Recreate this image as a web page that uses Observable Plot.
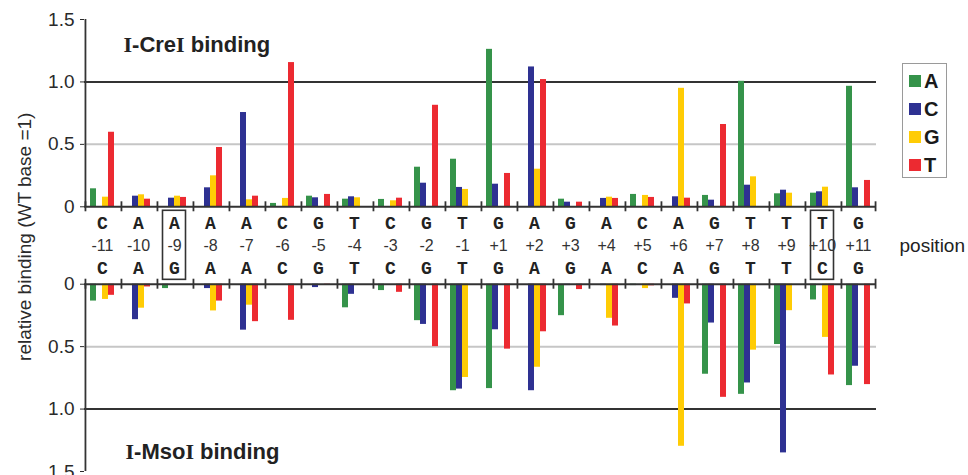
<!DOCTYPE html>
<html><head><meta charset="utf-8">
<script src="https://cdn.jsdelivr.net/npm/d3@7"></script>
<script src="https://cdn.jsdelivr.net/npm/@observablehq/plot@0.6"></script>
<style>
body{margin:0;background:#fff;font-family:"Liberation Sans",Arial,sans-serif;}
#wrap{position:relative;width:968px;height:475px;overflow:hidden;}
#legend{position:absolute;left:902px;top:63px;width:45px;height:115px;border:1px solid #9a9a9a;box-sizing:border-box;padding-top:3px;}
.item{height:28px;display:flex;align-items:center;}
.sw{width:12px;height:12px;margin-left:6px;margin-right:3px;}
.lb{font-weight:bold;font-size:20px;color:#1a1a1a;line-height:20px;}
</style></head><body><div id="wrap"></div>
<script>
// ---- data ----
const positions = ["-11","-10","-9","-8","-7","-6","-5","-4","-3","-2","-1","+1","+2","+3","+4","+5","+6","+7","+8","+9","+10","+11"];
const topSeq    = ["C","A","A","A","A","C","G","T","C","G","T","G","A","G","A","C","A","G","T","T","T","G"];
const bottomSeq = ["C","A","G","A","A","C","G","T","C","G","T","G","A","G","A","C","A","G","T","T","C","G"];
const bases = ["A","C","G","T"];
const baseColors = ["#35934a","#2e3192","#ffcc05","#ec2a31"];
const yTicks = [0, 0.5, 1.0, 1.5];

// I-CreI binding (null = wild-type base, not drawn)
const creA = [0.144,null,null,null,null,0.027,0.085,0.061,0.059,0.317,0.381,1.261,null,0.061,null,0.099,null,0.091,1.005,0.104,0.109,0.965];
const creC = [null,0.085,0.069,0.152,0.755,null,0.072,0.080,null,0.189,0.155,0.181,1.120,0.037,0.067,null,0.080,0.053,0.173,0.133,0.120,0.152];
const creG = [0.077,0.096,0.085,0.248,0.056,0.067,null,0.072,0.048,null,0.139,null,0.301,null,0.077,0.091,0.949,null,0.240,0.109,0.157,null];
const creT = [0.597,0.061,0.075,0.475,0.085,1.155,0.099,null,0.069,0.813,null,0.267,1.019,0.037,0.067,0.075,0.069,0.659,null,null,null,0.211];

// I-MsoI binding
const msoA = [0.135,null,0.035,null,null,0,0,0.189,0.051,0.292,0.853,0.836,null,0.252,null,0.011,null,0.721,0.882,0.483,0.126,0.812];
const msoC = [null,0.284,0,0.035,0.368,null,0.027,0.081,null,0.322,0.840,0.365,0.853,0.011,0.011,null,0.113,0.311,0.791,1.351,null,0.657];
const msoG = [0.122,0.192,null,0.214,0.168,0,null,0,0,null,0.747,null,0.665,null,0.273,0.035,1.298,null,0.528,0.212,0.426,null];
const msoT = [0.089,0.022,0,0.135,0.300,0.289,0.003,null,0.065,0.500,null,0.520,0.381,0.043,0.335,0.013,0.158,0.906,null,null,0.727,0.804];

// ---- layout ----
const G = 0.62; // gap between the two panels, in value units
const W = 968, H = 490, mL = 83, mR = 92, mT = 19, mB = 19;
const pad = 0.71;
const fw = (W - mL - mR) / positions.length;
const step = fw / (bases.length + 2 * pad);
const edge = step * (pad + 0.5);

const creVals = {A: creA, C: creC, G: creG, T: creT};
const msoVals = {A: msoA, C: msoC, G: msoG, T: msoT};
const rows = positions.flatMap((pos, i) => bases.map(b => ({pos, base: b, cre: creVals[b][i], mso: msoVals[b][i]})));
const topRows = rows.filter(d => d.cre != null);
const botRows = rows.filter(d => d.mso != null);
const seqRows = positions.map((pos, i) => ({pos, top: topSeq[i], bot: bottomSeq[i]}));
const boxed = seqRows.filter(d => d.top !== d.bot);
const first = [positions[0]], last = [positions[positions.length - 1]];

const fmt = v => { const t = v >= -1e-9 ? v : -(v + G); return Math.abs(t) < 1e-9 ? "0" : t.toFixed(1); };
const dark = "#333";

const chart = Plot.plot({
  width: W, height: H, marginLeft: mL, marginRight: mR, marginTop: mT, marginBottom: mB,
  style: {fontFamily: '"Liberation Sans", Arial, sans-serif', background: "transparent", overflow: "visible"},
  fx: {domain: positions, padding: 0, axis: null},
  x: {domain: bases, paddingInner: 0, paddingOuter: pad, axis: null},
  y: {domain: [-(G + 1.5), 1.5]},
  color: {domain: bases, range: baseColors},
  marks: [
    Plot.ruleY([0.5, -(G + 0.5)], {stroke: "#c6c6c6", strokeWidth: 2}),
    Plot.ruleY([1, -(G + 1)], {stroke: dark, strokeWidth: 2}),
    Plot.barY(topRows, {fx: "pos", x: "base", y: "cre", fill: "base"}),
    Plot.barY(botRows, {fx: "pos", x: "base", y1: -G, y2: d => -(G + d.mso), fill: "base"}),
    Plot.ruleY([0, -G], {stroke: dark, strokeWidth: 2}),
    Plot.ruleX(positions, {fx: d => d, x: () => "A", y1: -0.04, y2: 0.04, dx: -edge, stroke: dark, strokeWidth: 1.8}),
    Plot.ruleX(positions, {fx: d => d, x: () => "A", y1: -G - 0.04, y2: -G + 0.04, dx: -edge, stroke: dark, strokeWidth: 1.8}),
    Plot.ruleX(last, {fx: d => d, x: () => "T", y1: -0.04, y2: 0.04, dx: edge, stroke: dark, strokeWidth: 1.8}),
    Plot.ruleX(last, {fx: d => d, x: () => "T", y1: -G - 0.04, y2: -G + 0.04, dx: edge, stroke: dark, strokeWidth: 1.8}),
    Plot.ruleX(first, {fx: d => d, x: () => "A", y1: 0, y2: 1.5, dx: -edge, stroke: dark, strokeWidth: 1.8}),
    Plot.ruleX(first, {fx: d => d, x: () => "A", y1: -G, y2: -(G + 1.5), dx: -edge, stroke: dark, strokeWidth: 1.8}),
    Plot.axisY({ticks: [...yTicks, ...yTicks.map(t => -(G + t))], tickFormat: fmt, tickSize: 4, tickPadding: 6,
      fontSize: 19, color: "#2a2a2a", label: null}),
    Plot.text(first, {fx: d => d, text: () => "relative binding (WT base =1)", frameAnchor: "left", textAnchor: "middle", rotate: -90, dx: -60, y: -0.24, fontSize: 19, fill: "#2a2a2a"}),
    Plot.text(seqRows, {fx: "pos", text: "top", y: -G / 2, dy: -22, fontFamily: '"Liberation Mono", "Courier New", monospace', fontWeight: "bold", fontSize: 18, fill: "#222"}),
    Plot.text(seqRows, {fx: "pos", text: d => d.pos, y: -G / 2, fontSize: 16, fill: "#333"}),
    Plot.text(seqRows, {fx: "pos", text: "bot", y: -G / 2, dy: 22.5, fontFamily: '"Liberation Mono", "Courier New", monospace', fontWeight: "bold", fontSize: 18, fill: "#222"}),
    Plot.rect(boxed, {fx: "pos", y1: -0.032, y2: -G + 0.035, insetLeft: 6.5, insetRight: 6.5, stroke: dark, strokeWidth: 1.6, fill: "none"}),
    Plot.text(first, {fx: d => d, text: () => "I-CreI binding", frameAnchor: "left", textAnchor: "start", dx: 39, y: 1.3, fontSize: 22, fontWeight: "bold", fill: "#222"}),
    Plot.text(first, {fx: d => d, text: () => "I-MsoI binding", frameAnchor: "left", textAnchor: "start", dx: 41, y: -(G + 1.34), fontSize: 22, fontWeight: "bold", fill: "#222"}),
    Plot.text(last, {fx: d => d, text: () => "position", frameAnchor: "right", textAnchor: "start", dx: 23, y: -G / 2, fontSize: 19, fill: "#222"})
  ]
});

// serif "I" in enzyme names
chart.querySelectorAll("text").forEach(t => {
  const m = t.textContent.match(/^I-(\w+)I binding$/);
  if (!m) return;
  t.textContent = "";
  const parts = [["I", true], ["-" + m[1], false], ["I", true], [" binding", false]];
  for (const [s, serif] of parts) {
    const ts = document.createElementNS("http://www.w3.org/2000/svg", "tspan");
    if (serif) ts.setAttribute("font-family", '"Liberation Serif", "Times New Roman", serif');
    ts.textContent = s;
    t.appendChild(ts);
  }
});

const wrap = document.getElementById("wrap");
wrap.appendChild(chart);

// legend
const legend = document.createElement("div");
legend.id = "legend";
bases.forEach((b, i) => {
  const it = document.createElement("div"); it.className = "item";
  const sw = document.createElement("div"); sw.className = "sw"; sw.style.background = baseColors[i];
  const lb = document.createElement("span"); lb.className = "lb"; lb.textContent = b;
  it.appendChild(sw); it.appendChild(lb); legend.appendChild(it);
});
wrap.appendChild(legend);
</script></body></html>
